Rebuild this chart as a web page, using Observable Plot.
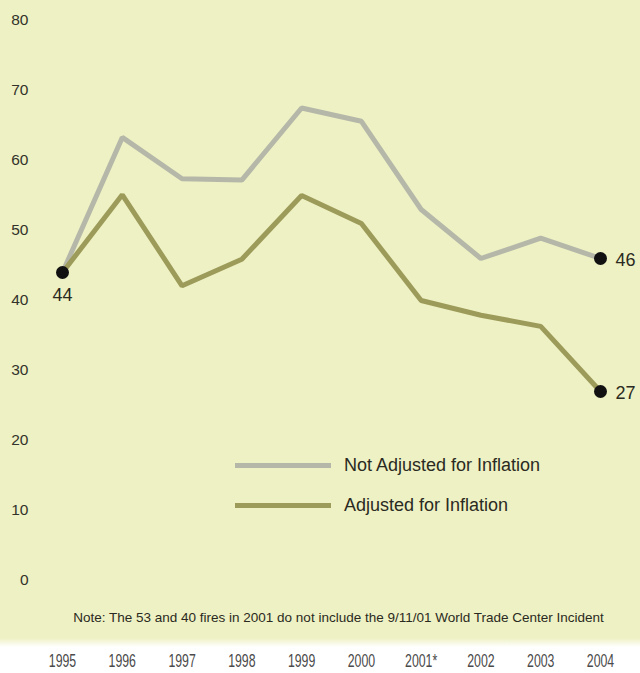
<!DOCTYPE html>
<html>
<head>
<meta charset="utf-8">
<script src="https://cdn.jsdelivr.net/npm/d3@7"></script>
<script src="https://cdn.jsdelivr.net/npm/@observablehq/plot@0.6"></script>
<style>
  html, body { margin: 0; padding: 0; background: #ffffff; }
  #wrap { position: relative; width: 640px; height: 673px;
          background: linear-gradient(to bottom, #eef1c3 0px, #eef1c3 638px, #ffffff 647px); }
  #legend { position: absolute; left: 235px; top: 445px; font-family: "Liberation Sans", Arial, sans-serif;
            font-size: 18px; color: #2a2a22; }
  #legend .row { display: flex; align-items: center; height: 40px; }
  #legend .sw { width: 96px; height: 5px; margin-right: 13px; }
</style>
</head>
<body>
<div id="wrap">
  <div id="chart"></div>
  <div id="legend">
    <div class="row"><div class="sw" style="background:#b5b8a8"></div><span>Not Adjusted for Inflation</span></div>
    <div class="row"><div class="sw" style="background:#9d9b5a"></div><span>Adjusted for Inflation</span></div>
  </div>
</div>
<script>
const years = [1995, 1996, 1997, 1998, 1999, 2000, 2001, 2002, 2003, 2004];
const yearLabels = ["1995", "1996", "1997", "1998", "1999", "2000", "2001*", "2002", "2003", "2004"];
const notAdjusted = [44, 63.3, 57.4, 57.2, 67.5, 65.6, 53, 46, 48.9, 46];
const adjusted = [44, 55.1, 42.1, 45.9, 55, 51, 40, 37.9, 36.3, 27];
const yTicks = [0, 10, 20, 30, 40, 50, 60, 70, 80];
const note = "Note: The 53 and 40 fires in 2001 do not include the 9/11/01 World Trade Center Incident";

const rowsNA = years.map((y, i) => ({year: y, value: notAdjusted[i]}));
const rowsA = years.map((y, i) => ({year: y, value: adjusted[i]}));
const endPoints = [
  {year: years[0], value: adjusted[0], label: String(adjusted[0]), pos: "below"},
  {year: years[9], value: notAdjusted[9], label: String(notAdjusted[9]), pos: "right"},
  {year: years[9], value: adjusted[9], label: String(adjusted[9]), pos: "right"}
];

const chart = Plot.plot({
  width: 640,
  height: 673,
  marginLeft: 62,
  marginRight: 40,
  marginTop: 20,
  marginBottom: 93,
  style: {background: "transparent", fontFamily: "Liberation Sans, Arial, sans-serif", overflow: "visible"},
  x: {domain: [1995, 2004]},
  y: {domain: [0, 80]},
  marks: [
    Plot.axisY({ticks: yTicks, tickSize: 0, tickPadding: 34, fontSize: 15.5, color: "#33332b", label: null}),
    Plot.axisX({ticks: years, tickFormat: (d) => yearLabels[years.indexOf(d)], tickSize: 0, tickPadding: 73,
                fontSize: 15, color: "#4a4a4a", label: null, ariaLabel: "x-axis"}),
    Plot.line(rowsNA, {x: "year", y: "value", stroke: "#b5b8a8", strokeWidth: 5, strokeLinejoin: "miter"}),
    Plot.line(rowsA, {x: "year", y: "value", stroke: "#9d9b5a", strokeWidth: 5, strokeLinejoin: "miter"}),
    Plot.dot(endPoints, {x: "year", y: "value", r: 6.5, fill: "#111111"}),
    Plot.text(endPoints.filter(d => d.pos === "below"), {x: "year", y: "value", text: "label", dy: 23, fontSize: 18, fill: "#2a2a22"}),
    Plot.text(endPoints.filter(d => d.pos === "right"), {x: "year", y: "value", text: "label", dx: 15, dy: 2, textAnchor: "start", fontSize: 18, fill: "#2a2a22"}),
    Plot.text([note], {frameAnchor: "bottom", dy: 41, dx: 7, text: d => d, fontSize: 13.5, fill: "#2a2a22"})
  ]
});
document.getElementById("chart").appendChild(chart);

// narrow, tall look for the year labels like the reference's condensed face
d3.select(chart).selectAll('g[aria-label="x-axis tick label"] text').each(function() {
  const t = this.getAttribute("transform");
  if (t) {
    this.setAttribute("transform", t + " scale(0.82,1.22)");
  } else {
    const x = this.getAttribute("x") || 0, y = this.getAttribute("y") || 0;
    this.removeAttribute("x"); this.removeAttribute("y");
    this.setAttribute("transform", `translate(${x},${y}) scale(0.82,1.22)`);
  }
});
</script>
</body>
</html>
